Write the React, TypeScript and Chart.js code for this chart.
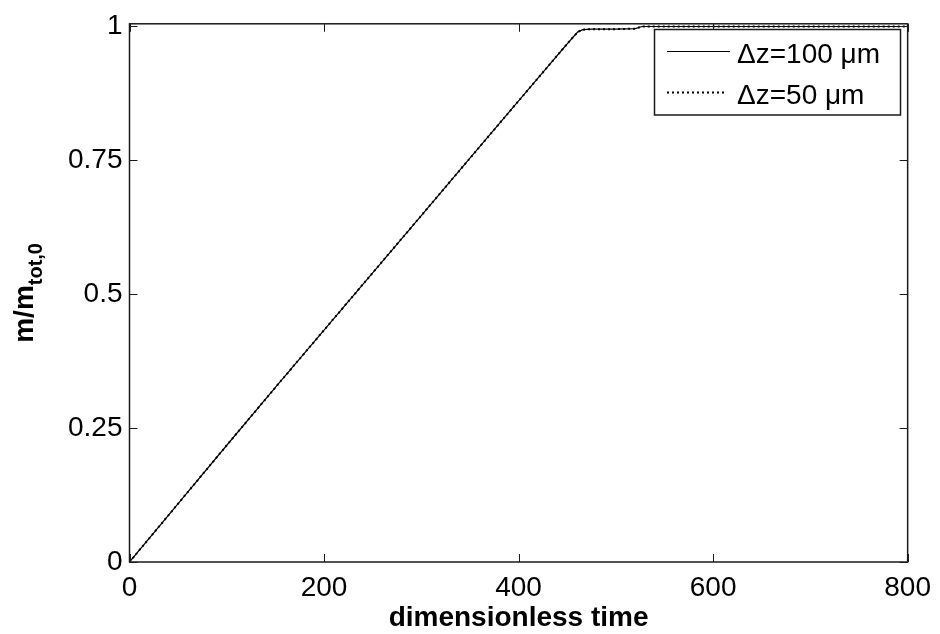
import React, { useEffect, useRef } from "react";
import { Chart, registerables } from "chart.js";

Chart.register(...registerables);

// ---- data ----
const timeSteps = [0, 50, 100, 150, 200, 250, 300, 350, 400, 430, 445, 455, 461, 466, 475, 500, 520, 527, 560, 600, 700, 800];
const massDz100 = [0, 0.109, 0.218, 0.326, 0.433, 0.54, 0.647, 0.754, 0.861, 0.925, 0.957, 0.978, 0.99, 0.994, 0.995, 0.995, 0.996, 1.0, 1.0, 1.0, 1.0, 1.0];
const massDz50 = [0, 0.109, 0.218, 0.326, 0.433, 0.54, 0.647, 0.754, 0.861, 0.925, 0.957, 0.978, 0.99, 0.994, 0.995, 0.995, 0.996, 1.0, 1.0, 1.0, 1.0, 1.0];
const seriesLabels = ["\u0394z=100 \u03bcm", "\u0394z=50 \u03bcm"];
const xTicks = [0, 200, 400, 600, 800];
const yTicks = [0, 0.25, 0.5, 0.75, 1];
const yTickLabels = ["0", "0.25", "0.5", "0.75", "1"];
const xTitle = "dimensionless time";
const yTitleMain = "m/m";
const yTitleSub = "tot,0";

const FONT = "'Liberation Sans', Arial, sans-serif";
const DOT_DASH = [2, 3];

const boxPlugin = {
  id: "matlabBox",
  afterDatasetsDraw(chart: any) {
    const { ctx, chartArea } = chart;
    const { left, right, top, bottom } = chartArea;
    const xs = chart.scales.x;
    const ys = chart.scales.y;
    ctx.save();
    ctx.strokeStyle = "#1a1a1a";
    ctx.lineWidth = 1.5;
    ctx.strokeRect(left, top, right - left, bottom - top);
    const tl = 8;
    ctx.beginPath();
    xTicks.forEach((v) => {
      const px = Math.round(xs.getPixelForValue(v)) + 0.5;
      ctx.moveTo(px, bottom);
      ctx.lineTo(px, bottom - tl);
      ctx.moveTo(px, top);
      ctx.lineTo(px, top + tl);
    });
    yTicks.forEach((v) => {
      const py = Math.round(ys.getPixelForValue(v)) + 0.5;
      ctx.moveTo(left, py);
      ctx.lineTo(left + tl, py);
      ctx.moveTo(right, py);
      ctx.lineTo(right - tl, py);
    });
    ctx.lineWidth = 1;
    ctx.stroke();

    // legend
    const bx = 654.5, by = 29.5, bw = 246, bh = 85.5;
    ctx.fillStyle = "#ffffff";
    ctx.fillRect(bx, by, bw, bh);
    ctx.strokeStyle = "#1a1a1a";
    ctx.lineWidth = 1.5;
    ctx.strokeRect(bx, by, bw, bh);
    ctx.strokeStyle = "#000";
    ctx.lineWidth = 1.2;
    ctx.setLineDash([]);
    ctx.beginPath();
    ctx.moveTo(667, 51.5);
    ctx.lineTo(730, 51.5);
    ctx.stroke();
    ctx.lineWidth = 2;
    ctx.setLineDash(DOT_DASH);
    ctx.beginPath();
    ctx.moveTo(667, 92.5);
    ctx.lineTo(727, 92.5);
    ctx.stroke();
    ctx.setLineDash([]);
    ctx.fillStyle = "#000";
    ctx.font = `28px ${FONT}`;
    ctx.textAlign = "left";
    ctx.textBaseline = "alphabetic";
    ctx.fillText(seriesLabels[0], 737, 63);
    ctx.fillText(seriesLabels[1], 737, 104);

    // x title
    ctx.font = `bold 28px ${FONT}`;
    ctx.textAlign = "center";
    ctx.fillText(xTitle, (left + right) / 2, 626);

    // y title (rotated, with subscript)
    const mainFont = `bold 28px ${FONT}`;
    const subFont = `bold 20px ${FONT}`;
    ctx.font = mainFont;
    const wMain = ctx.measureText(yTitleMain).width;
    ctx.font = subFont;
    const wSub = ctx.measureText(yTitleSub).width;
    const total = wMain + wSub;
    const cy = (top + bottom) / 2;
    ctx.translate(33, cy + total / 2);
    ctx.rotate(-Math.PI / 2);
    ctx.textAlign = "left";
    ctx.font = mainFont;
    ctx.fillText(yTitleMain, 0, 0);
    ctx.font = subFont;
    ctx.fillText(yTitleSub, wMain, 9);
    ctx.restore();
  },
};

export default function App() {
  const ref = useRef<HTMLCanvasElement | null>(null);
  useEffect(() => {
    if (!ref.current) return;
    // dataset 0 is painted last (on top) by Chart.js, so the dotted series goes first
    const chart = new Chart(ref.current, {
      type: "line",
      data: {
        datasets: [
          {
            label: seriesLabels[1],
            data: timeSteps.map((t, i) => ({ x: t, y: massDz50[i] })),
            borderColor: "#000",
            borderWidth: 2,
            borderDash: DOT_DASH,
            pointRadius: 0,
            tension: 0,
            fill: false,
          },
          {
            label: seriesLabels[0],
            data: timeSteps.map((t, i) => ({ x: t, y: massDz100[i] })),
            borderColor: "#000",
            borderWidth: 1.2,
            pointRadius: 0,
            tension: 0,
            fill: false,
          },
        ],
      },
      options: {
        animation: false,
        responsive: false,
        maintainAspectRatio: false,
        layout: { padding: { left: 0, right: 30, top: 18, bottom: 0 } },
        plugins: { legend: { display: false }, tooltip: { enabled: false } },
        scales: {
          x: {
            type: "linear",
            min: 0,
            max: 800,
            afterBuildTicks: (s: any) => {
              s.ticks = xTicks.map((v) => ({ value: v }));
            },
            afterFit: (s: any) => {
              s.height = 72;
            },
            grid: { display: false, drawTicks: false },
            border: { display: false },
            ticks: {
              color: "#000",
              font: { family: FONT, size: 28 },
              padding: 9,
              maxRotation: 0,
              callback: (v: any) => String(v),
            },
          },
          y: {
            type: "linear",
            min: 0,
            max: 1.005,
            afterBuildTicks: (s: any) => {
              s.ticks = yTicks.map((v) => ({ value: v }));
            },
            afterFit: (s: any) => {
              s.width = 129.5;
            },
            grid: { display: false, drawTicks: false },
            border: { display: false },
            ticks: {
              color: "#000",
              font: { family: FONT, size: 28 },
              padding: 7,
              callback: (v: any) => {
                const i = yTicks.indexOf(Number(v));
                return i >= 0 ? yTickLabels[i] : "";
              },
            },
          },
        },
      },
      plugins: [boxPlugin],
    });
    return () => chart.destroy();
  }, []);
  return (
    <div style={{ position: "fixed", left: 0, top: 0, width: 940, height: 634, background: "#fff" }}>
      <canvas ref={ref} width={940} height={634} style={{ width: 940, height: 634 }} />
    </div>
  );
}
